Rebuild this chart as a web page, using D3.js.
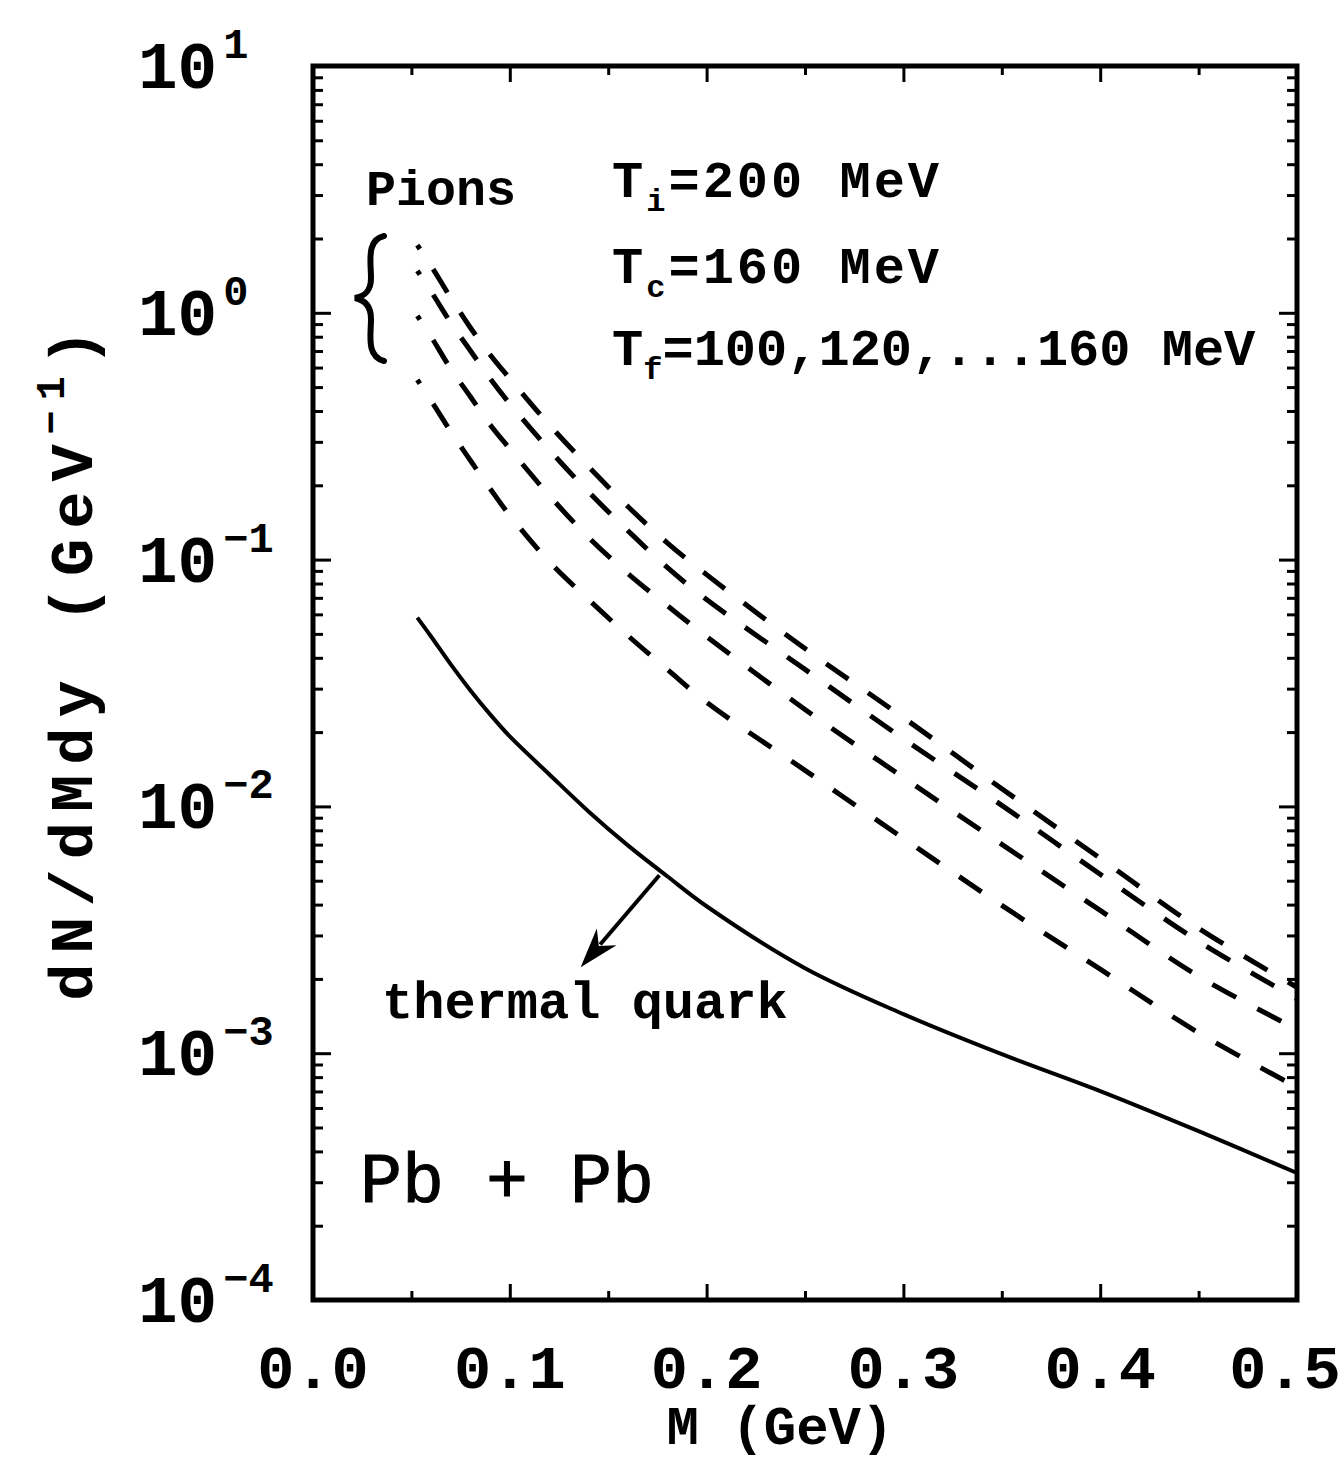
<!DOCTYPE html>
<html>
<head>
<meta charset="utf-8">
<script src="https://cdn.jsdelivr.net/npm/d3@7"></script>
<style>
  body { margin: 0; background: #fff; }
  svg { display: block; }
  text { font-family: "Liberation Mono", "DejaVu Sans Mono", monospace; fill: #000; }
</style>
</head>
<body>
<svg id="chart" width="1343" height="1465"></svg>
<script>
// invariant mass grid (GeV)
var massGeV = [0.053, 0.06, 0.07, 0.08, 0.09, 0.10, 0.12, 0.14, 0.16, 0.18, 0.20, 0.25, 0.30, 0.35, 0.40, 0.45, 0.50];

// pion curves for the four freeze-out temperatures, top to bottom
var pionsTf100 = [1.88, 1.55, 1.15, 0.87, 0.676, 0.541, 0.352, 0.238, 0.164, 0.117, 0.0869, 0.0436, 0.0229, 0.0118, 0.00616, 0.00321, 0.00185];
var pionsTf120 = [1.48, 1.22, 0.911, 0.702, 0.541, 0.428, 0.279, 0.188, 0.131, 0.0929, 0.0689, 0.0359, 0.0188, 0.0101, 0.00531, 0.00284, 0.00166];
var pionsTf140 = [0.972, 0.800, 0.593, 0.457, 0.352, 0.281, 0.182, 0.123, 0.0878, 0.0651, 0.0488, 0.0247, 0.0131, 0.00702, 0.00379, 0.00205, 0.00125];
var pionsTf160 = [0.535, 0.441, 0.330, 0.252, 0.194, 0.151, 0.0982, 0.0689, 0.0492, 0.0359, 0.0264, 0.0140, 0.00742, 0.00397, 0.00219, 0.00121, 0.000728];

// thermal quark curve (solid)
var thermalQuark = [0.0582, 0.0488, 0.0376, 0.0295, 0.0236, 0.0192, 0.0135, 0.00954, 0.00695, 0.00521, 0.00394, 0.00221, 0.00144, 0.000991, 0.000702, 0.000483, 0.000327];

// axes
var xMajorTicks = [0, 0.1, 0.2, 0.3, 0.4, 0.5];
var xMinorTicks = [0.05, 0.15, 0.25, 0.35, 0.45];
var xTickLabels = ["0.0", "0.1", "0.2", "0.3", "0.4", "0.5"];
var yExponents = [1, 0, -1, -2, -3, -4];

// arrow: from the curve down to the label
var arrowFrom = [0.176, 0.00526];
var arrowTo = [0.136, 0.00223];

var svg = d3.select('#chart');

var x = d3.scaleLinear().domain([0, 0.5]).range([313, 1297]);
var y = d3.scaleLog().domain([1e-4, 10]).range([1300, 66]);

var yMajor = yExponents.map(function (e) { return Math.pow(10, e); });
var yMinor = y.ticks().filter(function (d) {
    var l = Math.log10(d);
    return Math.abs(l - Math.round(l)) > 1e-6;
});

function tickStyle(g) {
    g.select('.domain').remove();
    g.selectAll('.tick line').attr('stroke', '#000').attr('stroke-width', 3);
}

// ticks on all four sides, pointing inward
svg.append('g').attr('transform', 'translate(313,0)')
    .call(d3.axisRight(y).tickValues(yMinor).tickSize(10).tickFormat(''))
    .call(tickStyle);
svg.append('g').attr('transform', 'translate(313,0)')
    .call(d3.axisRight(y).tickValues(yMajor).tickSize(18).tickFormat(''))
    .call(tickStyle);
svg.append('g').attr('transform', 'translate(1297,0)')
    .call(d3.axisLeft(y).tickValues(yMinor).tickSize(10).tickFormat(''))
    .call(tickStyle);
svg.append('g').attr('transform', 'translate(1297,0)')
    .call(d3.axisLeft(y).tickValues(yMajor).tickSize(18).tickFormat(''))
    .call(tickStyle);

svg.append('g').attr('transform', 'translate(0,1300)')
    .call(d3.axisTop(x).tickValues(xMajorTicks).tickSize(16).tickFormat(''))
    .call(tickStyle);
svg.append('g').attr('transform', 'translate(0,1300)')
    .call(d3.axisTop(x).tickValues(xMinorTicks).tickSize(9).tickFormat(''))
    .call(tickStyle);
svg.append('g').attr('transform', 'translate(0,66)')
    .call(d3.axisBottom(x).tickValues(xMajorTicks).tickSize(16).tickFormat(''))
    .call(tickStyle);
svg.append('g').attr('transform', 'translate(0,66)')
    .call(d3.axisBottom(x).tickValues(xMinorTicks).tickSize(9).tickFormat(''))
    .call(tickStyle);

// frame
svg.append('rect')
    .attr('x', x(0)).attr('y', y(10))
    .attr('width', x(0.5) - x(0)).attr('height', y(1e-4) - y(10))
    .attr('fill', 'none').attr('stroke', '#000').attr('stroke-width', 5);

// x tick labels
svg.append('g').selectAll('text')
    .data(xMajorTicks)
    .enter().append('text')
    .attr('x', function (d) { return x(d); })
    .attr('dx', function (d, i) { return i === xMajorTicks.length - 1 ? -12 : 0; })
    .attr('y', 1388)
    .attr('text-anchor', 'middle')
    .attr('font-size', 62)
    .attr('font-weight', 'bold')
    .text(function (d, i) { return xTickLabels[i]; });

// y tick labels 10^n
var yLab = svg.append('g').selectAll('text')
    .data(yExponents)
    .enter().append('text')
    .attr('x', 138)
    .attr('y', function (d) { return y(Math.pow(10, d)) + 22; })
    .attr('font-weight', 'bold');
yLab.append('tspan').attr('font-size', 66).text('10');
yLab.append('tspan').attr('font-size', 42).attr('dx', 6).attr('dy', -30)
    .text(function (d) { return d < 0 ? '\u2212' + (-d) : '' + d; });

// axis titles
svg.append('text')
    .attr('x', 780).attr('y', 1444)
    .attr('text-anchor', 'middle')
    .attr('font-size', 54).attr('font-weight', 'bold')
    .text('M (GeV)');

var yTitle = svg.append('text')
    .attr('transform', 'translate(92,660) rotate(-90)')
    .attr('text-anchor', 'middle')
    .attr('font-size', 62).attr('font-weight', 'bold')
    .attr('letter-spacing', 10);
yTitle.append('tspan').text('dN/dMdy (GeV');
yTitle.append('tspan').attr('font-size', 40).attr('dy', -28).text('\u22121');
yTitle.append('tspan').attr('dy', 28).text(')');

// curves
var line = d3.line()
    .x(function (d) { return x(d[0]); })
    .y(function (d) { return y(d[1]); })
    .curve(d3.curveCatmullRom.alpha(0.5));

var pionSeries = [pionsTf100, pionsTf120, pionsTf140, pionsTf160];

svg.append('g').selectAll('path')
    .data(pionSeries)
    .enter().append('path')
    .attr('d', function (s) { return line(d3.zip(massGeV, s)); })
    .attr('fill', 'none')
    .attr('stroke', '#000')
    .attr('stroke-width', 5)
    .attr('stroke-dasharray', '27 24')
    .attr('stroke-dashoffset', 22);

svg.append('path')
    .attr('d', line(d3.zip(massGeV, thermalQuark)))
    .attr('fill', 'none')
    .attr('stroke', '#000')
    .attr('stroke-width', 4);

// arrow to the label
var ax1 = x(arrowFrom[0]), ay1 = y(arrowFrom[1]);
var ax2 = x(arrowTo[0]), ay2 = y(arrowTo[1]);
var ang = Math.atan2(ay2 - ay1, ax2 - ax1);
var headLen = 40, headW = 13;
var bx = ax2 - headLen * Math.cos(ang), by = ay2 - headLen * Math.sin(ang);
svg.append('line')
    .attr('x1', ax1).attr('y1', ay1)
    .attr('x2', bx + 10 * Math.cos(ang)).attr('y2', by + 10 * Math.sin(ang))
    .attr('stroke', '#000').attr('stroke-width', 4);
svg.append('path')
    .attr('d', 'M' + ax2 + ',' + ay2 +
        'L' + (bx + headW * Math.sin(ang)) + ',' + (by - headW * Math.cos(ang)) +
        'L' + (bx + 12 * Math.cos(ang)) + ',' + (by + 12 * Math.sin(ang)) +
        'L' + (bx - headW * Math.sin(ang)) + ',' + (by + headW * Math.cos(ang)) + 'Z')
    .attr('fill', '#000');

// brace next to the pion curves
svg.append('path')
    .attr('d', 'M384,236 C366,240 371,262 371,278 C371,291 365,296 355,298 C365,300 371,306 371,319 C371,335 366,356 384,361')
    .attr('fill', 'none').attr('stroke', '#000').attr('stroke-width', 6)
    .attr('stroke-linecap', 'round');

// labels
svg.append('text')
    .attr('x', 366).attr('y', 205)
    .attr('font-size', 50).attr('font-weight', 'bold')
    .text('Pions');

svg.append('text')
    .attr('x', 382).attr('y', 1018)
    .attr('font-size', 52).attr('font-weight', 'bold')
    .text('thermal quark');

svg.append('text')
    .attr('x', 360).attr('y', 1202)
    .attr('font-size', 70)
    .attr('stroke', '#000').attr('stroke-width', 1)
    .text('Pb + Pb');

var params = [
    { sub: 'i', rest: '=200 MeV', y: 197 },
    { sub: 'c', rest: '=160 MeV', y: 283 },
    { sub: 'f', rest: '=100,120,...160 MeV', y: 365 }
];
var pt = svg.append('g').selectAll('text')
    .data(params)
    .enter().append('text')
    .attr('x', 612)
    .attr('y', function (d) { return d.y; })
    .attr('font-size', 52).attr('font-weight', 'bold')
    .attr('letter-spacing', function (d, i) { return i < 2 ? 3 : 0; });
pt.append('tspan').text('T');
pt.append('tspan').attr('font-size', 32).attr('dy', 14).text(function (d) { return d.sub; });
pt.append('tspan').attr('dy', -14).text(function (d) { return d.rest; });
</script>
</body>
</html>
